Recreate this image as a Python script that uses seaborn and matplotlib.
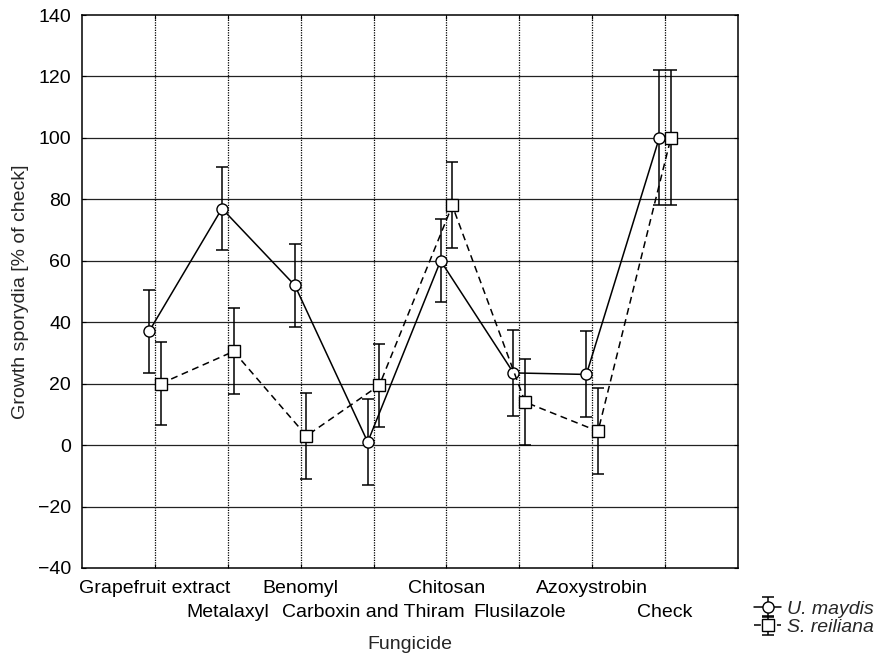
import numpy as np
import pandas as pd
import seaborn as sns
import matplotlib
matplotlib.use('Agg')
from matplotlib import pyplot as plt

# data
fungicides = ['Grapefruit extract', 'Metalaxyl', 'Benomyl', 'Carboxin and Thiram',
              'Chitosan', 'Flusilazole', 'Azoxystrobin', 'Check']
u_maydis = [37, 77, 52, 1, 60, 23.5, 23, 100]
u_maydis_err = [13.5, 13.5, 13.5, 14, 13.5, 14, 14, 22]
s_reiliana = [20, 30.5, 3, 19.5, 78, 14, 4.5, 100]
s_reiliana_err = [13.5, 14, 14, 13.5, 14, 14, 14, 22]

sns.set_style('ticks')
plt.rcParams['font.family'] = ['Liberation Sans', 'DejaVu Sans']
FS = 14

pos = np.arange(1, len(fungicides) + 1)
df = pd.concat([
    pd.DataFrame({'x': pos - 0.08, 'y': u_maydis, 'err': u_maydis_err, 'species': 'U. maydis'}),
    pd.DataFrame({'x': pos + 0.08, 'y': s_reiliana, 'err': s_reiliana_err, 'species': 'S. reiliana'}),
])

fig = plt.figure(figsize=(8.8, 6.58), dpi=100)
ax = fig.add_axes([0.0932, 0.1368, 0.7454, 0.8404])

# grid
for p in pos:
    ax.axvline(p, color='black', lw=0.9, ls=(0, (1, 1)), zorder=0)
for yv in range(-20, 140, 20):
    ax.axhline(yv, color='#222222', lw=0.9, zorder=0)

handles = []
for sp in ['U. maydis', 'S. reiliana']:
    d = df[df.species == sp]
    eb = ax.errorbar(d.x, d.y, yerr=d.err, fmt='none', ecolor='black',
                     elinewidth=1.1, capsize=4, capthick=1.1, zorder=2)
    handles.append(eb)

sns.lineplot(data=df, x='x', y='y', style='species', markers={'U. maydis': 'o', 'S. reiliana': 's'},
             dashes={'U. maydis': '', 'S. reiliana': (4.5, 3)}, color='black', sort=False,
             markersize=8, markerfacecolor='white', markeredgecolor='black', markeredgewidth=1,
             linewidth=1.1, ax=ax, legend=False, zorder=3)

lines = ax.get_lines()[-2:]

ax.set_xlim(0, 9)
ax.set_ylim(-40, 140)
ax.set_yticks(range(-40, 141, 20))
ax.set_yticklabels([str(v).replace('-', '\u2212') for v in range(-40, 141, 20)])
ax.set_xticks(pos)
ax.set_xticklabels(fungicides)
ax.tick_params(axis='both', direction='in', length=3, labelsize=FS, colors='black',
               top=True, right=True, pad=8)
for i, t in enumerate(ax.xaxis.get_major_ticks()):
    t.set_pad(9 if i % 2 == 0 else 26)
for s in ax.spines.values():
    s.set_color('black')
    s.set_linewidth(1.1)

ax.set_xlabel('Fungicide', fontsize=FS, labelpad=11)
ax.set_ylabel('Growth sporydia [% of check]', fontsize=FS, labelpad=6)

leg = fig.legend([(handles[0], lines[0]), (handles[1], lines[1])], ['U. maydis', 'S. reiliana'],
                 loc='upper left', bbox_to_anchor=(0.848, 0.1), frameon=False,
                 fontsize=FS, handlelength=1.4, handletextpad=0.3, labelspacing=0.05,
                 borderaxespad=0)
for t in leg.get_texts():
    t.set_fontstyle('italic')

fig.savefig('out.png', dpi=100)
